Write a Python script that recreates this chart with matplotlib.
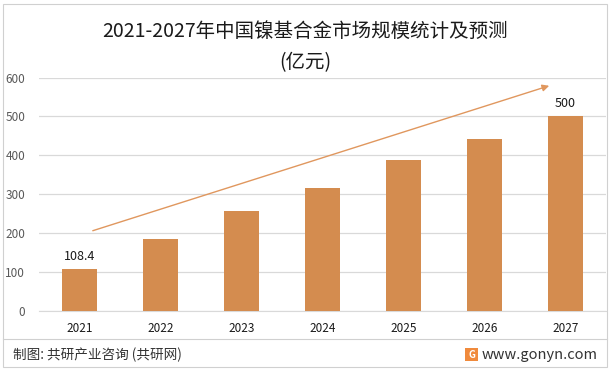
import matplotlib.pyplot as plt
from matplotlib.patches import Rectangle, FancyArrowPatch
import matplotlib.lines as mlines

plt.rcParams['font.family'] = ['Noto Sans CJK SC', 'DejaVu Sans']

years = ['2021', '2022', '2023', '2024', '2025', '2026', '2027']
market_size = [108.4, 184, 256, 315, 389, 443, 500]
shown_labels = {0: '108.4', 6: '500'}

bar_color = '#D48C4F'
arrow_color = '#E0975E'

fig = plt.figure(figsize=(6.11, 3.71), dpi=100)
ax = fig.add_axes([0.064, 0.162, 0.928, 0.629])

x = list(range(len(years)))
ax.bar(x, market_size, width=0.43, color=bar_color, zorder=3)
for i, lab in shown_labels.items():
    ax.text(x[i], market_size[i] + 16, lab, ha='center', va='bottom', fontsize=9, color='#1a1a1a')

ax.set_xlim(-0.5, len(years) - 0.5)
ax.set_ylim(0, 600)
ax.set_yticks(range(0, 601, 100))
ax.yaxis.grid(True, color='#D9D9D9', linewidth=0.9, zorder=0)
ax.set_xticks(x)
ax.set_xticklabels(years, fontsize=8.5, color='#1a1a1a')
ax.tick_params(axis='y', labelsize=8.5, labelcolor='#595959', length=0, pad=10)
ax.tick_params(axis='x', length=0, pad=8)
for s in ['top', 'right', 'left']:
    ax.spines[s].set_visible(False)
ax.spines['bottom'].set_color('#D9D9D9')

# trend arrow
arrow = FancyArrowPatch((0.13, 204), (5.83, 581), arrowstyle='-|>', mutation_scale=10,
                        color=arrow_color, linewidth=1.0, zorder=4)
ax.add_patch(arrow)

fig.text(0.5, 0.915, '2021-2027年中国镍基合金市场规模统计及预测', ha='center', va='center',
         fontsize=14, color='#1a1a1a')
fig.text(0.5, 0.832, '(亿元)', ha='center', va='center', fontsize=14, color='#1a1a1a')

# outer frame and footer
fig.add_artist(Rectangle((3 / 611, 4 / 371), 604 / 611, 363 / 371, transform=fig.transFigure,
                         fill=False, edgecolor='#D0D0D0', linewidth=0.8))
fig.add_artist(mlines.Line2D([3 / 611, 607 / 611], [1 - 339 / 371, 1 - 339 / 371],
                             transform=fig.transFigure, color='#D0D0D0', linewidth=0.8))
fig.text(13 / 611, 1 - 355 / 371, '制图: 共研产业咨询 (共研网)', ha='left', va='center',
         fontsize=9.8, color='#333333')
fig.add_artist(Rectangle((465 / 611, 1 - 361 / 371), 13 / 611, 13 / 371, transform=fig.transFigure,
                         facecolor='#F08A3C', edgecolor='none'))
fig.text(471.5 / 611, 1 - 354.5 / 371, 'G', ha='center', va='center', fontsize=7,
         color='white', fontweight='bold')
fig.text(598 / 611, 1 - 355 / 371, 'www.gonyn.com', ha='right', va='center',
         fontsize=10.5, color='#333333')

fig.savefig('out.png', dpi=100)
